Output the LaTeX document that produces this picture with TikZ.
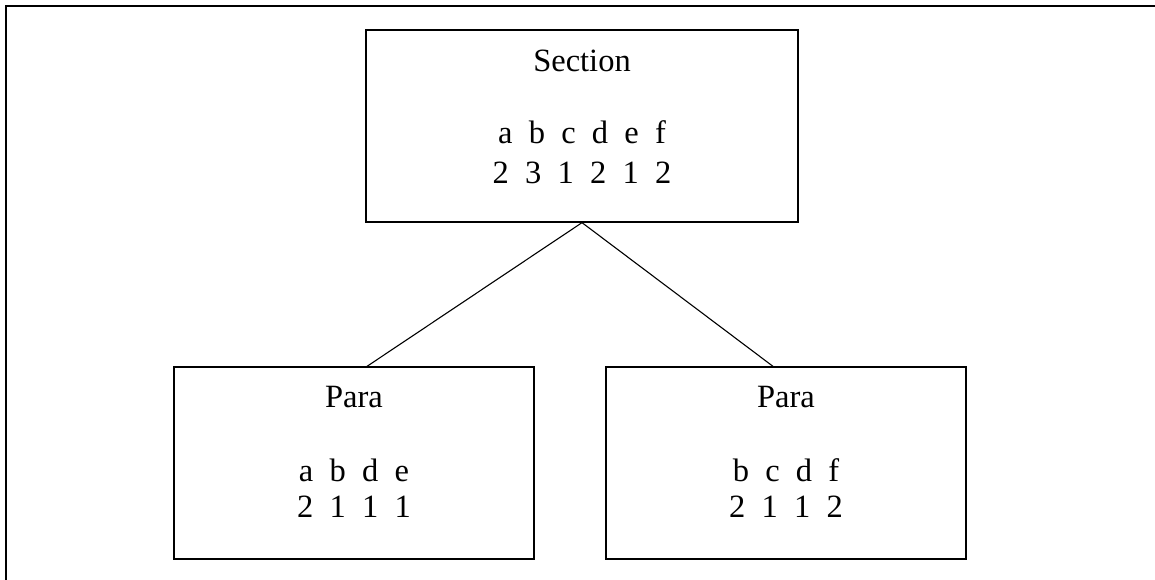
\documentclass[tikz,border=0pt]{standalone}
\usepackage{fontspec}
\setmainfont{Liberation Serif}
\begin{document}
\begin{tikzpicture}[x=1pt,y=-1pt,
  box/.style={draw,line width=1.3pt,rectangle,minimum width=#1,minimum height=192pt,inner sep=0pt},
  lbl/.style={anchor=base,inner sep=0pt,font=\fontsize{32.5}{39}\selectfont},
  link/.style={line width=1.1pt}]
\useasboundingbox (0,0) rectangle (1155,580);
% outer frame, running off the right and bottom edges
\begin{scope}
\clip (0,0) rectangle (1155,580);
\draw[line width=1.6pt] (6,600) -- (6,6) -- (1170,6);
\end{scope}
% boxes
\node[box=432pt] (sec) at (582,126) {};
\node[box=360pt] (p1) at (354,463) {};
\node[box=360pt] (p2) at (786,463) {};
% texts
\node[lbl] (sect) at (582,72) {Section};
\node[lbl] (secl) at (582,144) {a~~b~~c~~d~~e~~f};
\node[lbl] (secn) at (582,183) {2~~3~~1~~2~~1~~2};
\node[lbl] (p1t) at (354,407) {Para};
\node[lbl] (p1l) at (354,481) {a~~b~~d~~e};
\node[lbl] (p1n) at (354,517) {2~~1~~1~~1};
\node[lbl] (p2t) at (786,407) {Para};
\node[lbl] (p2l) at (786,481) {b~~c~~d~~f};
\node[lbl] (p2n) at (786,517) {2~~1~~1~~2};
% connectors
\draw[link] (sec.south) -- ([xshift=13pt]p1.north);
\draw[link] (sec.south) -- ([xshift=-13pt]p2.north);
\end{tikzpicture}
\end{document}
